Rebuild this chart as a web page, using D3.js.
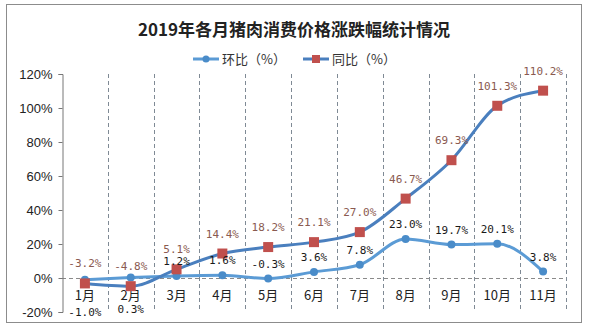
<!DOCTYPE html>
<html>
<head>
<meta charset="utf-8">
<script src="https://cdn.jsdelivr.net/npm/d3@7"></script>
<style>
  html, body { margin: 0; padding: 0; background: #fff; }
  svg { display: block; }
</style>
</head>
<body>
<svg id="chart" width="592" height="332"></svg>
<script>
// 2019 monthly pork consumer price change
const months = ["1月","2月","3月","4月","5月","6月","7月","8月","9月","10月","11月"];
const momValues = [-1.0, 0.3, 1.2, 1.6, -0.3, 3.6, 7.8, 23.0, 19.7, 20.1, 3.8];      // 环比
const yoyValues = [-3.2, -4.8, 5.1, 14.4, 18.2, 21.1, 27.0, 46.7, 69.3, 101.3, 110.2]; // 同比
const yTicks = [-20, 0, 20, 40, 60, 80, 100, 120];
const seriesNames = ["环比（%）", "同比（%）"];
const titleText = "2019年各月猪肉消费价格涨跌幅统计情况";
// months whose 环比 label sits under the line instead of above it
const momLabelsBelow = ["1月", "2月"];

const svg = d3.select("#chart");
const plot = { left: 62, right: 566, top: 74, bottom: 312 };

const x = d3.scaleBand().domain(months).range([plot.left, plot.right]).padding(0);
const y = d3.scaleLinear().domain([-20, 120]).range([plot.bottom, plot.top]);
const cx = m => x(m) + x.bandwidth() / 2;

// outer frame
svg.append("rect")
  .attr("x", 6.5).attr("y", 4.5).attr("width", 575).attr("height", 318)
  .attr("fill", "#fff").attr("stroke", "#8c8c8c").attr("stroke-width", 1);

// title
svg.append("text")
  .attr("x", 294).attr("y", 36)
  .attr("text-anchor", "middle")
  .attr("font-family", "'Noto Sans CJK SC', sans-serif")
  .attr("font-weight", "bold")
  .attr("font-size", 17)
  .attr("fill", "#222")
  .text(titleText);

// legend
const legend = svg.append("g").attr("font-family", "'Noto Sans CJK SC', sans-serif").attr("font-size", 13);
const legendItems = [
  { name: seriesNames[0], x0: 193, line: "#5b9bd5", marker: "circle" },
  { name: seriesNames[1], x0: 303, line: "#4a7fbe", marker: "square" }
];
legendItems.forEach(d => {
  const g = legend.append("g").attr("transform", `translate(${d.x0},59)`);
  g.append("line").attr("x1", 0).attr("x2", 26).attr("y1", 0).attr("y2", 0)
    .attr("stroke", d.line).attr("stroke-width", 3);
  if (d.marker === "circle") {
    g.append("circle").attr("cx", 13).attr("cy", 0).attr("r", 3.5).attr("fill", "#4a8cc9");
  } else {
    g.append("rect").attr("x", 9).attr("y", -4).attr("width", 8).attr("height", 8).attr("fill", "#c0504d");
  }
  g.append("text").attr("x", 29).attr("y", 5).attr("fill", "#333").text(d.name);
});

// vertical dashed band separators
const bounds = months.map(m => x(m) + x.bandwidth());
svg.append("g").selectAll("line").data(bounds).join("line")
  .attr("x1", d => Math.round(d) + 0.5).attr("x2", d => Math.round(d) + 0.5)
  .attr("y1", plot.top).attr("y2", plot.bottom)
  .attr("stroke", "#7f8a95").attr("stroke-width", 1).attr("stroke-dasharray", "4,3");

// zero line
svg.append("line")
  .attr("x1", plot.left).attr("x2", plot.right)
  .attr("y1", Math.round(y(0)) + 0.5).attr("y2", Math.round(y(0)) + 0.5)
  .attr("stroke", "#8a8a8a").attr("stroke-width", 1).attr("stroke-dasharray", "4,3");

// y axis
const yAxis = d3.axisLeft(y).tickValues(yTicks).tickFormat(d => d + "%").tickSize(4).tickPadding(6);
const yg = svg.append("g").attr("transform", `translate(${plot.left + 0.5},0)`).call(yAxis);
yg.select(".domain").attr("stroke", "#777");
yg.selectAll(".tick line").attr("stroke", "#777");
yg.selectAll(".tick text")
  .attr("font-family", "'Liberation Sans', sans-serif")
  .attr("font-size", 13).attr("fill", "#222");

// month labels just under the zero line
svg.append("g").selectAll("text").data(months).join("text")
  .attr("x", d => cx(d)).attr("y", y(0) + 22)
  .attr("text-anchor", "middle")
  .attr("font-family", "'Noto Sans CJK SC', sans-serif")
  .attr("font-size", 13).attr("fill", "#222")
  .text(d => d);

// lines
const lineGen = vals => d3.line().x((d, i) => cx(months[i])).y(d => y(d)).curve(d3.curveMonotoneX)(vals);
svg.append("path").attr("d", lineGen(momValues))
  .attr("fill", "none").attr("stroke", "#5b9bd5").attr("stroke-width", 3);
svg.append("path").attr("d", lineGen(yoyValues))
  .attr("fill", "none").attr("stroke", "#4a7fbe").attr("stroke-width", 3);

// markers
svg.append("g").selectAll("circle").data(momValues).join("circle")
  .attr("cx", (d, i) => cx(months[i])).attr("cy", d => y(d)).attr("r", 4)
  .attr("fill", "#4a8cc9");
svg.append("g").selectAll("rect").data(yoyValues).join("rect")
  .attr("x", (d, i) => cx(months[i]) - 5).attr("y", d => y(d) - 5)
  .attr("width", 10).attr("height", 10)
  .attr("fill", "#c0504d");

// data labels
const fmt = v => v.toFixed(1) + "%";
const labelFont = "'DejaVu Sans Mono', 'Liberation Mono', monospace";
svg.append("g").selectAll("text").data(yoyValues).join("text")
  .attr("x", (d, i) => cx(months[i])).attr("y", d => y(d) - 16)
  .attr("text-anchor", "middle")
  .attr("font-family", labelFont).attr("font-size", 11)
  .attr("fill", "#8a5a50")
  .text(fmt);
svg.append("g").selectAll("text").data(momValues).join("text")
  .attr("x", (d, i) => cx(months[i]))
  .attr("y", (d, i) => momLabelsBelow.includes(months[i]) ? y(d) + 36 : y(d) - 11)
  .attr("text-anchor", "middle")
  .attr("font-family", labelFont).attr("font-size", 11)
  .attr("fill", "#1a1a1a")
  .text(fmt);
</script>
</body>
</html>
